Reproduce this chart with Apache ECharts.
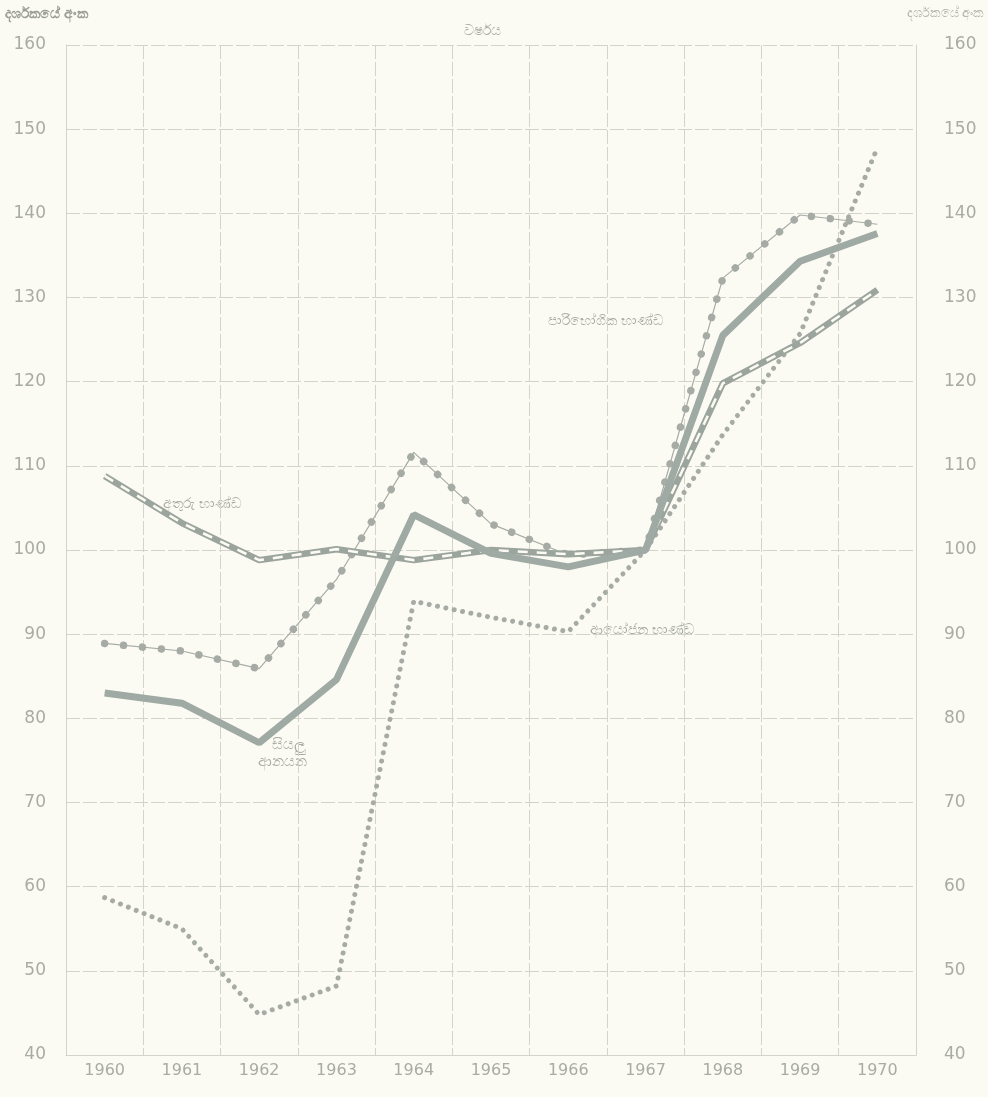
<!DOCTYPE html>
<html>
<head>
<meta charset="utf-8">
<style>
html,body{margin:0;padding:0;background:#fbfbf3;}
#c{width:988px;height:1097px;}
</style>
<script src="https://cdn.jsdelivr.net/npm/echarts@6/dist/echarts.min.js"></script>
</head>
<body>
<div id="c"></div>
<script>
const years = ['1960','1961','1962','1963','1964','1965','1966','1967','1968','1969','1970'];
const totalImports = [83.0, 81.8, 77.1, 84.6, 104.2, 99.6, 98.0, 100.0, 125.5, 134.3, 137.6];
const intermediateGoods = [108.8, 103.2, 98.8, 100.1, 98.8, 100.0, 99.5, 100.0, 119.8, 124.6, 130.9];
const consumerGoods = [88.9, 88.0, 85.9, 96.5, 111.6, 103.1, 99.4, 100.0, 132.3, 139.8, 138.7];
const investmentGoods = [58.7, 55.0, 44.8, 48.2, 93.9, 92.0, 90.3, 100.0, 113.7, 125.7, 147.8];
const yTicks = [40, 160, 10];

const leftTitle = 'දර්ශකයේ අංක';
const rightTitle = 'දර්ශකයේ අංක';
const xTitle = 'වර්ෂය';
const labelIntermediate = 'අතුරු භාණ්ඩ';
const labelConsumer = 'පාරිභෝගික භාණ්ඩ';
const labelInvestment = 'ආයෝජන භාණ්ඩ';
const labelTotal1 = 'සියලු';
const labelTotal2 = 'ආනයන';

const lineColor = '#9faaa4';
const gridColor = '#d2d3c9';
const textColor = '#a9aca2';

const chart = echarts.init(document.getElementById('c'), null, {renderer: 'canvas'});

function yAxis(pos) {
  return {
    type: 'value', position: pos, min: yTicks[0], max: yTicks[1], interval: yTicks[2],
    axisLine: {show: true, lineStyle: {color: gridColor, width: 1}},
    axisTick: {show: false},
    splitLine: {show: pos === 'left', lineStyle: {color: gridColor, width: 1, type: [14, 3]}},
    axisLabel: {color: textColor, fontSize: 17, fontFamily: 'DejaVu Sans', margin: pos === 'left' ? 20 : 28,
      align: pos === 'left' ? 'right' : 'left'}
  };
}

function lbl(text, x, y, size) {
  return {type: 'text', left: x, top: y, silent: true,
    style: {text: text, fill: textColor, font: size + 'px "Noto Sans", sans-serif'}};
}

chart.setOption({
  backgroundColor: '#fbfbf3',
  animation: false,
  grid: {left: 66, right: 72, top: 45, bottom: 42},
  xAxis: {
    type: 'category', data: years, boundaryGap: true,
    axisLine: {show: true, lineStyle: {color: gridColor}},
    axisTick: {show: false},
    splitLine: {show: true, lineStyle: {color: gridColor, width: 1, type: [14, 3]}},
    axisLabel: {color: textColor, fontSize: 16, fontFamily: 'DejaVu Sans', margin: 8, interval: 0}
  },
  yAxis: [yAxis('left'), yAxis('right')],
  series: [
    {name: 'investment', type: 'line', data: investmentGoods, symbol: 'none', z: 3,
      lineStyle: {color: '#a6aca5', width: 5, type: [0.01, 8.5], cap: 'round'}},
    {name: 'consumerLine', type: 'line', data: consumerGoods, symbol: 'none', z: 3,
      lineStyle: {color: '#a6aca5', width: 1.2}},
    {name: 'consumerDots', type: 'line', data: consumerGoods, symbol: 'none', z: 3,
      lineStyle: {color: '#a6aca5', width: 7.5, type: [0.01, 19], cap: 'round'}},
    {name: 'intermediate', type: 'line', data: intermediateGoods, symbol: 'none', z: 4,
      lineStyle: {color: '#9ba49d', width: 6.5}},
    {name: 'intermediateInner', type: 'line', data: intermediateGoods, symbol: 'none', z: 5,
      lineStyle: {color: '#fbfbf3', width: 2.6, type: [10, 9]}},
    {name: 'total', type: 'line', data: totalImports, symbol: 'none', z: 6,
      lineStyle: {color: lineColor, width: 7}}
  ],
  graphic: [
    {type: 'text', left: 5, top: 7, silent: true,
      style: {text: leftTitle, fill: '#9a9d94', font: 'bold 14px "Noto Sans", sans-serif'}},
    {type: 'text', right: 4, top: 7, silent: true,
      style: {text: rightTitle, fill: '#b3b6ac', font: '13px "Noto Sans", sans-serif'}},
    lbl(xTitle, 464, 24, 14),
    lbl(labelIntermediate, 163, 497, 14),
    lbl(labelConsumer, 548, 314, 14),
    lbl(labelInvestment, 590, 623, 14),
    lbl(labelTotal1, 272, 737, 15),
    lbl(labelTotal2, 258, 754, 15)
  ]
});
</script>
</body>
</html>
